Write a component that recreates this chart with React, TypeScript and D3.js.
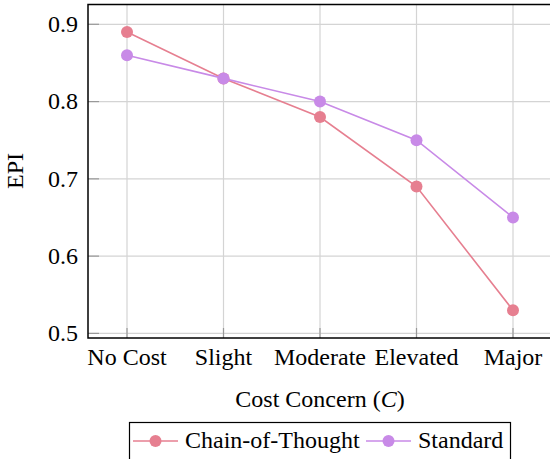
import React from "react";
import * as d3 from "d3";

const categories = ["No Cost", "Slight", "Moderate", "Elevated", "Major"];
const cotValues = [0.89, 0.83, 0.78, 0.69, 0.53];
const standardValues = [0.86, 0.83, 0.8, 0.75, 0.65];
const yTicks = [0.5, 0.6, 0.7, 0.8, 0.9];
const seriesNames = ["Chain-of-Thought", "Standard"];
const seriesColors = ["#E67F90", "#C88AE7"];

const W = 550;
const H = 459;
const left = 88;
const right = 552;
const top = 4.5;
const bottom = 338;
const textStyle: React.CSSProperties = {
  fontFamily: "Liberation Serif",
  fontSize: "24px",
};

export default function App() {
  const x = d3
    .scalePoint<string>()
    .domain(categories)
    .range([127, 513]);
  const y = d3.scaleLinear().domain([0.5, 0.9]).range([333.4, 24.3]);

  const line = d3
    .line<number>()
    .x((_, i) => x(categories[i]) as number)
    .y((d) => y(d));

  const series = [cotValues, standardValues];

  return (
    <svg
      width={W}
      height={H}
      style={{ position: "absolute", left: 0, top: 0, background: "#fff" }}
    >
      {/* grid */}
      {categories.map((c) => (
        <line
          key={"gx" + c}
          x1={x(c)}
          x2={x(c)}
          y1={top}
          y2={bottom}
          stroke="#d4d4d4"
          strokeWidth={1.2}
        />
      ))}
      {yTicks.map((t) => (
        <line
          key={"gy" + t}
          x1={left}
          x2={right}
          y1={y(t)}
          y2={y(t)}
          stroke="#d4d4d4"
          strokeWidth={1.2}
        />
      ))}
      {/* tick marks */}
      {yTicks.map((t) => (
        <line
          key={"ty" + t}
          x1={left}
          x2={left + 11}
          y1={y(t)}
          y2={y(t)}
          stroke="#999"
          strokeWidth={1.2}
        />
      ))}
      {categories.map((c) => (
        <line
          key={"tx" + c}
          x1={x(c)}
          x2={x(c)}
          y1={bottom}
          y2={bottom - 10}
          stroke="#999"
          strokeWidth={1.2}
        />
      ))}
      {/* frame */}
      <rect
        x={left}
        y={top}
        width={right - left}
        height={bottom - top}
        fill="none"
        stroke="#000"
        strokeWidth={1.5}
      />
      {/* series */}
      {series.map((vals, si) => (
        <g key={"s" + si}>
          <path
            d={line(vals) as string}
            fill="none"
            stroke={seriesColors[si]}
            strokeWidth={1.6}
          />
          {vals.map((v, i) => (
            <circle
              key={i}
              cx={x(categories[i])}
              cy={y(v)}
              r={6}
              fill={seriesColors[si]}
            />
          ))}
        </g>
      ))}
      {/* y tick labels */}
      {yTicks.map((t) => (
        <text
          key={"ly" + t}
          x={78}
          y={y(t)}
          dy="0.33em"
          textAnchor="end"
          style={textStyle}
        >
          {t.toFixed(1)}
        </text>
      ))}
      {/* x tick labels */}
      {categories.map((c) => (
        <text
          key={"lx" + c}
          x={x(c)}
          y={365}
          textAnchor="middle"
          style={textStyle}
        >
          {c}
        </text>
      ))}
      {/* axis titles */}
      <text x={320} y={407} textAnchor="middle" style={textStyle}>
        Cost Concern (<tspan fontStyle="italic">C</tspan>)
      </text>
      <text
        transform={`translate(23,171) rotate(-90)`}
        textAnchor="middle"
        style={textStyle}
      >
        EPI
      </text>
      {/* legend */}
      <rect
        x={129.5}
        y={422.5}
        width={381}
        height={45}
        fill="#fff"
        stroke="#000"
        strokeWidth={1.2}
      />
      {seriesNames.map((name, i) => {
        const x0 = i === 0 ? 133 : 366;
        return (
          <g key={"lg" + name}>
            <line
              x1={x0}
              x2={x0 + 45}
              y1={441}
              y2={441}
              stroke={seriesColors[i]}
              strokeWidth={1.6}
            />
            <circle cx={x0 + 22.5} cy={441} r={6} fill={seriesColors[i]} />
            <text x={x0 + 52} y={448} style={textStyle}>
              {name}
            </text>
          </g>
        );
      })}
    </svg>
  );
}
